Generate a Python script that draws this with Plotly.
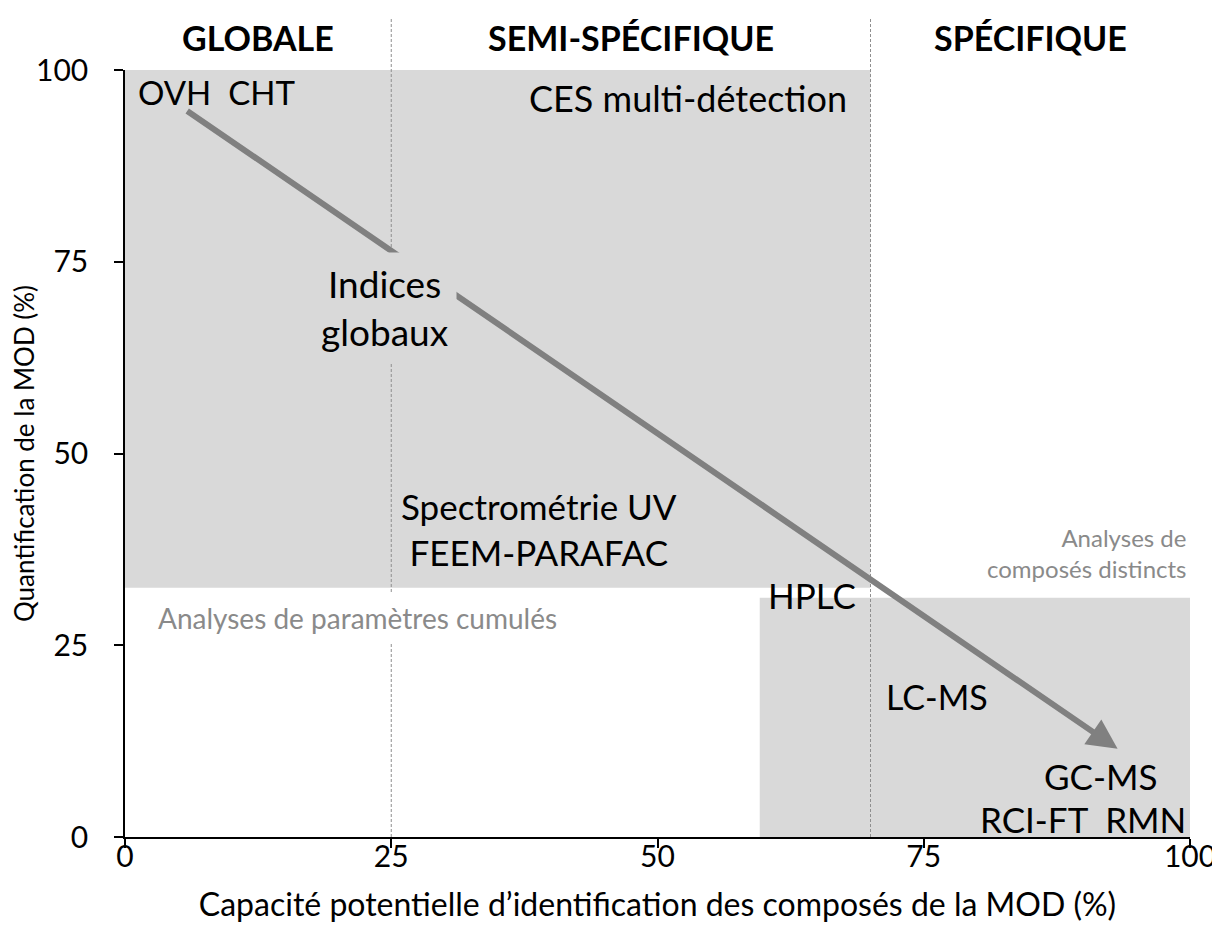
"""
Chart: analytical methods for MOD - quantification vs identification capacity
"""

import plotly.graph_objects as go

FONT = "Lato, 'Open Sans', sans-serif"
GREY_BOX = "#d9d9d9"
GREY_TXT = "#8a8a8a"
ARROW = "#808080"

# axis ticks
x_ticks = [0, 25, 50, 75, 100]
y_ticks = [0, 25, 50, 75, 100]

# zones (x bounds) and headers
zone_bounds = [25, 70]
zone_names = ["GLOBALE", "SEMI-SPÉCIFIQUE", "SPÉCIFIQUE"]
zone_centers = [12.5, 47.5, 85]

# shaded regions: [x0, x1, y0, y1]
cumulated_box = [0, 70, 32.5, 100]
distinct_box = [59.6, 100, 0, 31.2]

# arrow from (x0, y0) to (x1, y1)
arrow_start = [5.7, 94.8]
arrow_end = [93.2, 11.5]

# method labels
methods = ["OVH  CHT", "CES multi-détection", "Indices<br>globaux",
           "Spectrométrie UV<br>FEEM-PARAFAC", "HPLC", "LC-MS",
           "GC-MS", "RCI-FT  RMN"]
method_x = [1.0, 52.9, 24.4, 38.9, 64.5, 76.2, 91.6, 99.8]
method_y = [97.1, 96.3, 69.1, 40.2, 31.6, 18.3, 8.0, 2.4]
method_size = [33, 36, 37, 35, 35, 34, 35, 35]
method_anchor = ["left", "center", "center", "center", "center", "center", "center", "right"]


fig = go.Figure()

# invisible trace so the axes are drawn
fig.add_trace(go.Scatter(x=[0, 100], y=[0, 100], mode="markers",
                         marker=dict(opacity=0), hoverinfo="skip", showlegend=False))

for b in [cumulated_box, distinct_box]:
    fig.add_shape(type="rect", xref="x", yref="y", x0=b[0], x1=b[1], y0=b[2], y1=b[3],
                  fillcolor=GREY_BOX, line_width=0, layer="below")

for xb in zone_bounds:
    fig.add_shape(type="line", xref="x", yref="paper", x0=xb, x1=xb, y0=0, y1=1.068,
                  line=dict(color="#8f8f8f", width=1, dash="3px,2px"))

for name, xc in zip(zone_names, zone_centers):
    fig.add_annotation(x=xc, y=1.042, xref="x", yref="paper", yanchor="middle",
                       text="<b>%s</b>" % name, showarrow=False,
                       font=dict(family=FONT, size=34, color="black"))

# main arrow
fig.add_annotation(x=arrow_end[0], y=arrow_end[1], ax=arrow_start[0], ay=arrow_start[1],
                   xref="x", yref="y", axref="x", ayref="y", text="",
                   showarrow=True, arrowhead=2, arrowsize=1.0, arrowwidth=6,
                   arrowcolor=ARROW, standoff=0, startstandoff=0)

for txt, xx, yy, sz, anc in zip(methods, method_x, method_y, method_size, method_anchor):
    bg = GREY_BOX if txt.startswith("Indices") else None
    fig.add_annotation(x=xx, y=yy, text=txt, showarrow=False, xanchor=anc,
                       align=anc, bgcolor=bg, borderpad=8 if bg else 1,
                       font=dict(family=FONT, size=sz, color="black"))

# group labels in grey
fig.add_annotation(x=2.3, y=28.6, text="Analyses de paramètres cumulés", showarrow=False,
                   xanchor="left", bgcolor="white", borderpad=8,
                   font=dict(family=FONT, size=28, color=GREY_TXT))
fig.add_annotation(x=99.8, y=37.0, text="Analyses de<br>composés distincts", showarrow=False,
                   xanchor="right", align="right",
                   font=dict(family=FONT, size=24, color=GREY_TXT))

axis_common = dict(showgrid=False, zeroline=False, showline=True, linecolor="black",
                   linewidth=1.5, ticks="outside", ticklen=9, tickcolor="black",
                   tickwidth=1.5, automargin=False, ticklabeloverflow="allow",
                   tickfont=dict(family=FONT, size=30, color="black"))

fig.update_xaxes(range=[0, 100], tickvals=x_ticks, ticklabelstandoff=-17, title=dict(
    text="Capacité potentielle d’identification des composés de la MOD (%)",
    font=dict(family=FONT, size=32, color="black"), standoff=22), **axis_common)
fig.update_yaxes(range=[0, 100], tickvals=y_ticks, ticklabelstandoff=20, title=dict(
    text="Quantification de la MOD (%)",
    font=dict(family=FONT, size=26, color="black"), standoff=4), **axis_common)

fig.update_layout(
    width=1212, height=920,
    margin=dict(l=117, r=30, t=62, b=91),
    plot_bgcolor="white", paper_bgcolor="white",
    showlegend=False
)

fig.write_html("out.html")
